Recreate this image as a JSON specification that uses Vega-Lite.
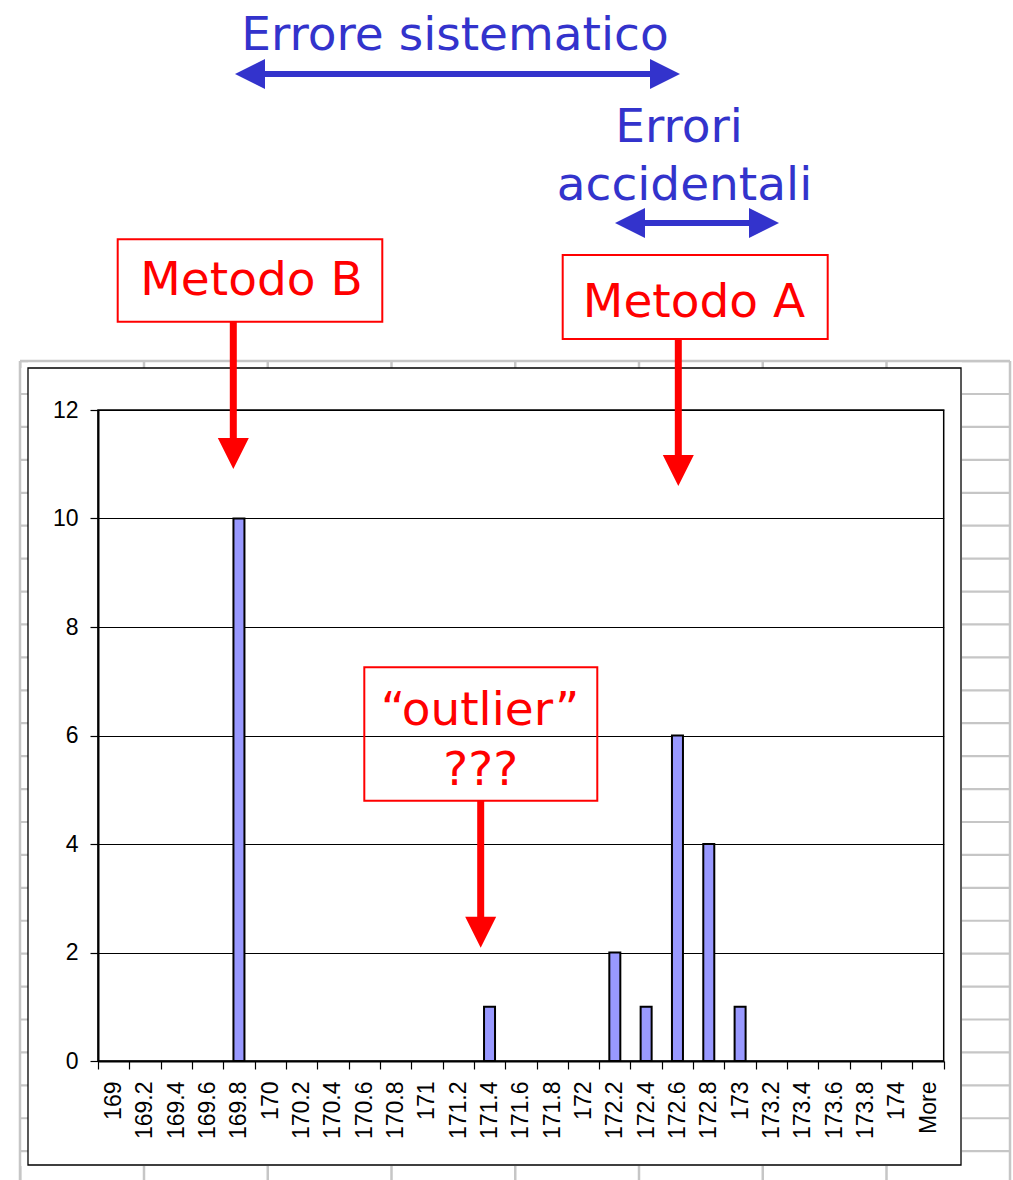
{
  "$schema": "https://vega.github.io/schema/vega-lite/v6.json",
  "autosize": {"type": "none"},
  "padding": {"left": 98, "top": 410, "right": 69.3, "bottom": 119},
  "width": 845.7,
  "height": 651,
  "background": "white",
  "config": {
    "view": {"stroke": "#000", "strokeWidth": 1.5},
    "axis": {
      "labelFont": "Liberation Sans",
      "labelFontSize": 23,
      "labelColor": "#000",
      "tickColor": "#000",
      "tickWidth": 1.2,
      "tickSize": 8,
      "labelPadding": 12,
      "domainColor": "#000",
      "domainWidth": 2,
      "labelOverlap": false,
      "labelFlush": false,
      "labelBound": false
    },
    "axisX": {"grid": false, "labelAngle": -90, "labelOffset": 15.66, "tickCount": 40},
    "axisY": {"grid": true, "gridColor": "#000", "gridWidth": 1, "tickCount": 20}
  },
  "data": {"values": [{}]},
  "layer": [
    {
      "data": {
        "values": [
          {"classe": "169", "limite": 169, "frequenza": 0},
          {"classe": "169.2", "limite": 169.2, "frequenza": 0},
          {"classe": "169.4", "limite": 169.4, "frequenza": 0},
          {"classe": "169.6", "limite": 169.6, "frequenza": 0},
          {"classe": "169.8", "limite": 169.8, "frequenza": 10},
          {"classe": "170", "limite": 170, "frequenza": 0},
          {"classe": "170.2", "limite": 170.2, "frequenza": 0},
          {"classe": "170.4", "limite": 170.4, "frequenza": 0},
          {"classe": "170.6", "limite": 170.6, "frequenza": 0},
          {"classe": "170.8", "limite": 170.8, "frequenza": 0},
          {"classe": "171", "limite": 171, "frequenza": 0},
          {"classe": "171.2", "limite": 171.2, "frequenza": 0},
          {"classe": "171.4", "limite": 171.4, "frequenza": 1},
          {"classe": "171.6", "limite": 171.6, "frequenza": 0},
          {"classe": "171.8", "limite": 171.8, "frequenza": 0},
          {"classe": "172", "limite": 172, "frequenza": 0},
          {"classe": "172.2", "limite": 172.2, "frequenza": 2},
          {"classe": "172.4", "limite": 172.4, "frequenza": 1},
          {"classe": "172.6", "limite": 172.6, "frequenza": 6},
          {"classe": "172.8", "limite": 172.8, "frequenza": 4},
          {"classe": "173", "limite": 173, "frequenza": 1},
          {"classe": "173.2", "limite": 173.2, "frequenza": 0},
          {"classe": "173.4", "limite": 173.4, "frequenza": 0},
          {"classe": "173.6", "limite": 173.6, "frequenza": 0},
          {"classe": "173.8", "limite": 173.8, "frequenza": 0},
          {"classe": "174", "limite": 174, "frequenza": 0},
          {"classe": "More", "limite": 174.2, "frequenza": 0}
        ]
      },
      "transform": [{"filter": "datum.frequenza > 0"}],
      "mark": {"type": "bar", "width": 11, "fill": "#9999ff", "stroke": "#000", "strokeWidth": 2},
      "encoding": {
        "x": {
          "field": "limite",
          "type": "quantitative",
          "scale": {"domain": [168.9, 174.3], "nice": false, "zero": false, "padding": 0},
          "axis": {
            "title": null,
            "grid": false,
            "values": [168.9, 169.1, 169.3, 169.5, 169.7, 169.9, 170.1, 170.3, 170.5, 170.7, 170.9, 171.1, 171.3, 171.5, 171.7, 171.9, 172.1, 172.3, 172.5, 172.7, 172.9, 173.1, 173.3, 173.5, 173.7, 173.9, 174.1, 174.3],
            "tickCount": 40,
            "labelExpr": "datum.value > 174.2 ? '' : datum.value > 174.0 ? 'More' : format(datum.value + 0.1, '.1~f')",
            "labelAngle": -90,
            "labelOffset": 15.66,
            "labelFontSize": 23,
            "labelOverlap": false
          }
        },
        "y": {
          "field": "frequenza",
          "type": "quantitative",
          "scale": {"domain": [0, 12], "nice": false, "padding": 0},
          "axis": {
            "title": null,
            "values": [0, 2, 4, 6, 8, 10, 12],
            "tickCount": 20,
            "format": "d",
            "grid": true,
            "labelFontSize": 23,
            "labelOverlap": false
          }
        }
      }
    },
    {
      "mark": {"type": "rule", "color": "#c6c6c6", "strokeWidth": 2.5, "clip": false},
      "encoding": {"x": {"datum": 168.4019, "title": null}, "x2": {"datum": 174.7234}, "y": {"datum": 12.9032, "title": null}}
    },
    {
      "mark": {"type": "rule", "color": "#c6c6c6", "strokeWidth": 2.5, "clip": false},
      "encoding": {"x": {"datum": 168.4019, "title": null}, "y": {"datum": 12.9032, "title": null}, "y2": {"datum": -2.1935}}
    },
    {
      "mark": {"type": "rule", "color": "#c6c6c6", "strokeWidth": 2.5, "clip": false},
      "encoding": {"x": {"datum": 174.7234, "title": null}, "y": {"datum": 12.9032, "title": null}, "y2": {"datum": -2.1935}}
    },
    {
      "mark": {"type": "rule", "color": "#c6c6c6", "strokeWidth": 8, "strokeDash": [2.2, 30.72], "clip": false},
      "encoding": {"x": {"datum": 168.4275, "title": null}, "y": {"datum": 12.9217, "title": null}, "y2": {"datum": -2.1935}}
    },
    {
      "mark": {"type": "rule", "color": "#c6c6c6", "strokeWidth": 48, "strokeDash": [2.2, 30.72], "clip": false},
      "encoding": {"x": {"datum": 174.5701, "title": null}, "y": {"datum": 12.9217, "title": null}, "y2": {"datum": -2.1935}}
    },
    {
      "mark": {"type": "rule", "color": "#c6c6c6", "strokeWidth": 7, "strokeDash": [2.5, 121.25], "clip": false},
      "encoding": {"x": {"datum": 168.3956, "title": null}, "x2": {"datum": 174.7297}, "y": {"datum": 12.8387, "title": null}}
    },
    {
      "mark": {"type": "rule", "color": "#c6c6c6", "strokeWidth": 14, "strokeDash": [2.5, 121.25], "clip": false},
      "encoding": {"x": {"datum": 168.3956, "title": null}, "x2": {"datum": 174.7297}, "y": {"datum": -2.0645, "title": null}}
    },
    {
      "mark": {"type": "rect", "fill": "white", "fillOpacity": 0, "stroke": "#000", "strokeWidth": 1.3, "clip": false},
      "encoding": {"x": {"datum": 168.453, "title": null}, "x2": {"datum": 174.4105}, "y": {"datum": 12.7742, "title": null}, "y2": {"datum": -1.9171}}
    },
    {
      "mark": {"type": "text", "text": "Errore sistematico", "font": "DejaVu Sans", "fontSize": 47, "color": "#3333cc", "align": "center", "baseline": "alphabetic", "clip": false},
      "encoding": {"x": {"datum": 171.1795, "title": null}, "y": {"datum": 18.6359, "title": null}}
    },
    {
      "mark": {"type": "rule", "color": "#3333cc", "strokeWidth": 6, "clip": false},
      "encoding": {"x": {"datum": 169.9472, "title": null}, "x2": {"datum": 172.4438}, "y": {"datum": 18.1935, "title": null}}
    },
    {
      "mark": {"type": "point", "shape": "M0,0L2,-1L2,1Z", "size": 900, "filled": true, "color": "#3333cc", "opacity": 1, "strokeWidth": 0, "clip": false},
      "encoding": {"x": {"datum": 169.7748, "title": null}, "y": {"datum": 18.1935, "title": null}}
    },
    {
      "mark": {"type": "point", "shape": "M0,0L-2,-1L-2,1Z", "size": 900, "filled": true, "color": "#3333cc", "opacity": 1, "strokeWidth": 0, "clip": false},
      "encoding": {"x": {"datum": 172.6162, "title": null}, "y": {"datum": 18.1935, "title": null}}
    },
    {
      "mark": {"type": "text", "text": "Errori", "font": "DejaVu Sans", "fontSize": 47, "color": "#3333cc", "align": "center", "baseline": "alphabetic", "clip": false},
      "encoding": {"x": {"datum": 172.6099, "title": null}, "y": {"datum": 16.9401, "title": null}}
    },
    {
      "mark": {"type": "text", "text": "accidentali", "font": "DejaVu Sans", "fontSize": 47, "color": "#3333cc", "align": "center", "baseline": "alphabetic", "clip": false},
      "encoding": {"x": {"datum": 172.645, "title": null}, "y": {"datum": 15.871, "title": null}}
    },
    {
      "mark": {"type": "rule", "color": "#3333cc", "strokeWidth": 6, "clip": false},
      "encoding": {"x": {"datum": 172.3736, "title": null}, "x2": {"datum": 173.0759}, "y": {"datum": 15.447, "title": null}}
    },
    {
      "mark": {"type": "point", "shape": "M0,0L2,-1L2,1Z", "size": 900, "filled": true, "color": "#3333cc", "opacity": 1, "strokeWidth": 0, "clip": false},
      "encoding": {"x": {"datum": 172.2012, "title": null}, "y": {"datum": 15.447, "title": null}}
    },
    {
      "mark": {"type": "point", "shape": "M0,0L-2,-1L-2,1Z", "size": 900, "filled": true, "color": "#3333cc", "opacity": 1, "strokeWidth": 0, "clip": false},
      "encoding": {"x": {"datum": 173.2483, "title": null}, "y": {"datum": 15.447, "title": null}}
    },
    {
      "mark": {"type": "rect", "fill": "white", "fillOpacity": 0, "stroke": "#ff0000", "strokeWidth": 2, "clip": false},
      "encoding": {"x": {"datum": 169.0258, "title": null}, "x2": {"datum": 170.7153}, "y": {"datum": 15.1465, "title": null}, "y2": {"datum": 13.6276}}
    },
    {
      "mark": {"type": "text", "text": "Metodo B", "font": "DejaVu Sans", "fontSize": 47, "color": "#ff0000", "align": "center", "baseline": "alphabetic", "clip": false},
      "encoding": {"x": {"datum": 169.8801, "title": null}, "y": {"datum": 14.1198, "title": null}}
    },
    {
      "mark": {"type": "rule", "color": "#ff0000", "strokeWidth": 7, "clip": false},
      "encoding": {"x": {"datum": 169.7639, "title": null}, "y": {"datum": 13.6221, "title": null}, "y2": {"datum": 11.447}}
    },
    {
      "mark": {"type": "point", "shape": "M0,0L-1,-2L1,-2Z", "size": 961, "filled": true, "color": "#ff0000", "opacity": 1, "strokeWidth": 0, "clip": false},
      "encoding": {"x": {"datum": 169.7639, "title": null}, "y": {"datum": 10.9124, "title": null}}
    },
    {
      "mark": {"type": "rect", "fill": "white", "fillOpacity": 0, "stroke": "#ff0000", "strokeWidth": 2, "clip": false},
      "encoding": {"x": {"datum": 171.8672, "title": null}, "x2": {"datum": 173.5593}, "y": {"datum": 14.8571, "title": null}, "y2": {"datum": 13.3088}}
    },
    {
      "mark": {"type": "text", "text": "Metodo A", "font": "DejaVu Sans", "fontSize": 47, "color": "#ff0000", "align": "center", "baseline": "alphabetic", "clip": false},
      "encoding": {"x": {"datum": 172.7056, "title": null}, "y": {"datum": 13.7143, "title": null}}
    },
    {
      "mark": {"type": "rule", "color": "#ff0000", "strokeWidth": 7, "clip": false},
      "encoding": {"x": {"datum": 172.6054, "title": null}, "y": {"datum": 13.3088, "title": null}, "y2": {"datum": 11.1336}}
    },
    {
      "mark": {"type": "point", "shape": "M0,0L-1,-2L1,-2Z", "size": 961, "filled": true, "color": "#ff0000", "opacity": 1, "strokeWidth": 0, "clip": false},
      "encoding": {"x": {"datum": 172.6054, "title": null}, "y": {"datum": 10.5991, "title": null}}
    },
    {
      "mark": {"type": "rect", "fill": "white", "fillOpacity": 0, "stroke": "#ff0000", "strokeWidth": 2, "clip": false},
      "encoding": {"x": {"datum": 170.6004, "title": null}, "x2": {"datum": 172.0881}, "y": {"datum": 7.2571, "title": null}, "y2": {"datum": 4.7982}}
    },
    {
      "mark": {"type": "text", "text": "\u201coutlier\u201d", "font": "DejaVu Sans", "fontSize": 47, "color": "#ff0000", "align": "center", "baseline": "alphabetic", "clip": false},
      "encoding": {"x": {"datum": 171.3392, "title": null}, "y": {"datum": 6.1935, "title": null}}
    },
    {
      "mark": {"type": "text", "text": "???", "font": "DejaVu Sans", "fontSize": 47, "color": "#ff0000", "align": "center", "baseline": "alphabetic", "clip": false},
      "encoding": {"x": {"datum": 171.3436, "title": null}, "y": {"datum": 5.0876, "title": null}}
    },
    {
      "mark": {"type": "rule", "color": "#ff0000", "strokeWidth": 7, "clip": false},
      "encoding": {"x": {"datum": 171.3436, "title": null}, "y": {"datum": 4.7982, "title": null}, "y2": {"datum": 2.6175}}
    },
    {
      "mark": {"type": "point", "shape": "M0,0L-1,-2L1,-2Z", "size": 961, "filled": true, "color": "#ff0000", "opacity": 1, "strokeWidth": 0, "clip": false},
      "encoding": {"x": {"datum": 171.3436, "title": null}, "y": {"datum": 2.0885, "title": null}}
    }
  ]
}
